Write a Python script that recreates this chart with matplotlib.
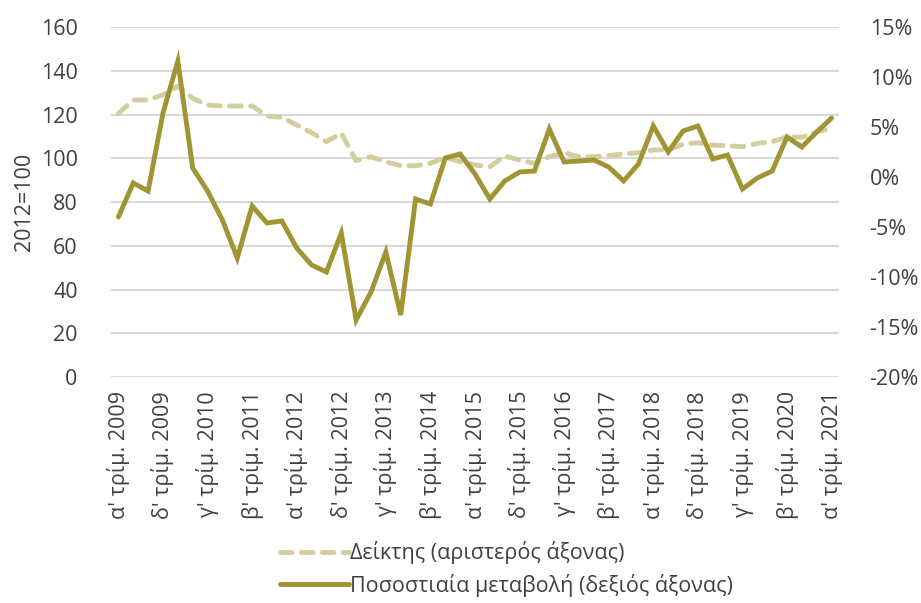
import matplotlib
matplotlib.use("Agg")
import matplotlib.pyplot as plt
from matplotlib.ticker import FuncFormatter

plt.rcParams['font.family'] = ['Open Sans', 'DejaVu Sans']

# quarterly data, α' 2009 ... α' 2021
quarters = ["α'", "β'", "γ'", "δ'"]
labels = []
for year in range(2009, 2022):
    for q in quarters:
        labels.append(f"{q} τρίμ. {year}")
labels = labels[:49]

index_values = [120.5, 126.6, 126.6, 129.0, 133.0, 127.4, 124.3, 123.9, 123.9, 123.9,
                119.3, 118.7, 115.2, 111.7, 107.6, 111.4, 98.9, 100.7, 98.4, 96.6,
                96.6, 97.7, 100.4, 98.4, 96.9, 96.1, 101.0, 99.2, 97.7, 100.7,
                102.5, 100.7, 100.7, 101.2, 102.0, 102.5, 103.8, 103.8, 106.5, 107.1,
                106.0, 105.7, 105.3, 106.8, 107.6, 109.8, 109.6, 112.1, 113.7]

pct_change = [-4.0, -0.6, -1.4, 6.4, 11.6, 0.9, -1.4, -4.3, -8.1, -2.9,
              -4.6, -4.4, -7.1, -8.8, -9.5, -5.6, -14.3, -11.5, -7.5, -13.8,
              -2.2, -2.7, 1.9, 2.3, 0.3, -2.2, -0.4, 0.5, 0.6, 4.8,
              1.5, 1.6, 1.7, 1.0, -0.4, 1.3, 5.1, 2.5, 4.6, 5.1,
              1.8, 2.2, -1.2, -0.1, 0.6, 4.0, 3.0, 4.5, 5.9]

text_color = '#404040'
solid_color = '#a09433'
dash_color = '#d3cd9f'

fig = plt.figure(figsize=(9.21, 6.03), dpi=100)
ax = fig.add_axes([0.1205, 0.3748, 0.7905, 0.5804])
ax2 = ax.twinx()

x = range(len(labels))
l1, = ax.plot(x, index_values, color=dash_color, lw=3.5, dashes=(2.4, 1.9),
              dash_capstyle='round', solid_capstyle='round', zorder=2,
              label='Δείκτης (αριστερός άξονας)')
l2, = ax2.plot(x, pct_change, color=solid_color, lw=3.5, solid_joinstyle='miter',
               solid_capstyle='round', zorder=3,
               label='Ποσοστιαία μεταβολή (δεξιός άξονας)')

ax.set_xlim(-0.5, 48.5)
ax.set_ylim(0, 160)
ax.set_yticks(range(0, 161, 20))
ax2.set_ylim(-20, 15)
ax2.set_yticks(range(-20, 16, 5))
ax2.yaxis.set_major_formatter(FuncFormatter(lambda v, p: f"{int(v)}%"))

ax.set_xticks(list(x)[::3])
ax.set_xticklabels(labels[::3], rotation=90, fontsize=15.5, color=text_color)
ax.grid(axis='y', color='#d9d9d9', lw=1.5)
ax.set_axisbelow(True)

for a in (ax, ax2):
    for s in a.spines.values():
        s.set_visible(False)
    a.tick_params(length=0, labelsize=15.5, labelcolor=text_color)
ax.tick_params(axis='y', pad=24)
ax.tick_params(axis='x', pad=10)
ax2.tick_params(axis='y', pad=22)

ax.set_ylabel('2012=100', fontsize=15.5, color=text_color)
ax.yaxis.set_label_coords(-0.105, 0.5)

fig.legend(handles=[l1, l2], loc='lower center', bbox_to_anchor=(0.55, -0.022),
           frameon=False, fontsize=15.5, handlelength=3.2, handletextpad=0.05,
           labelspacing=0.45, labelcolor=text_color)

plt.savefig("out.png", dpi=100)
